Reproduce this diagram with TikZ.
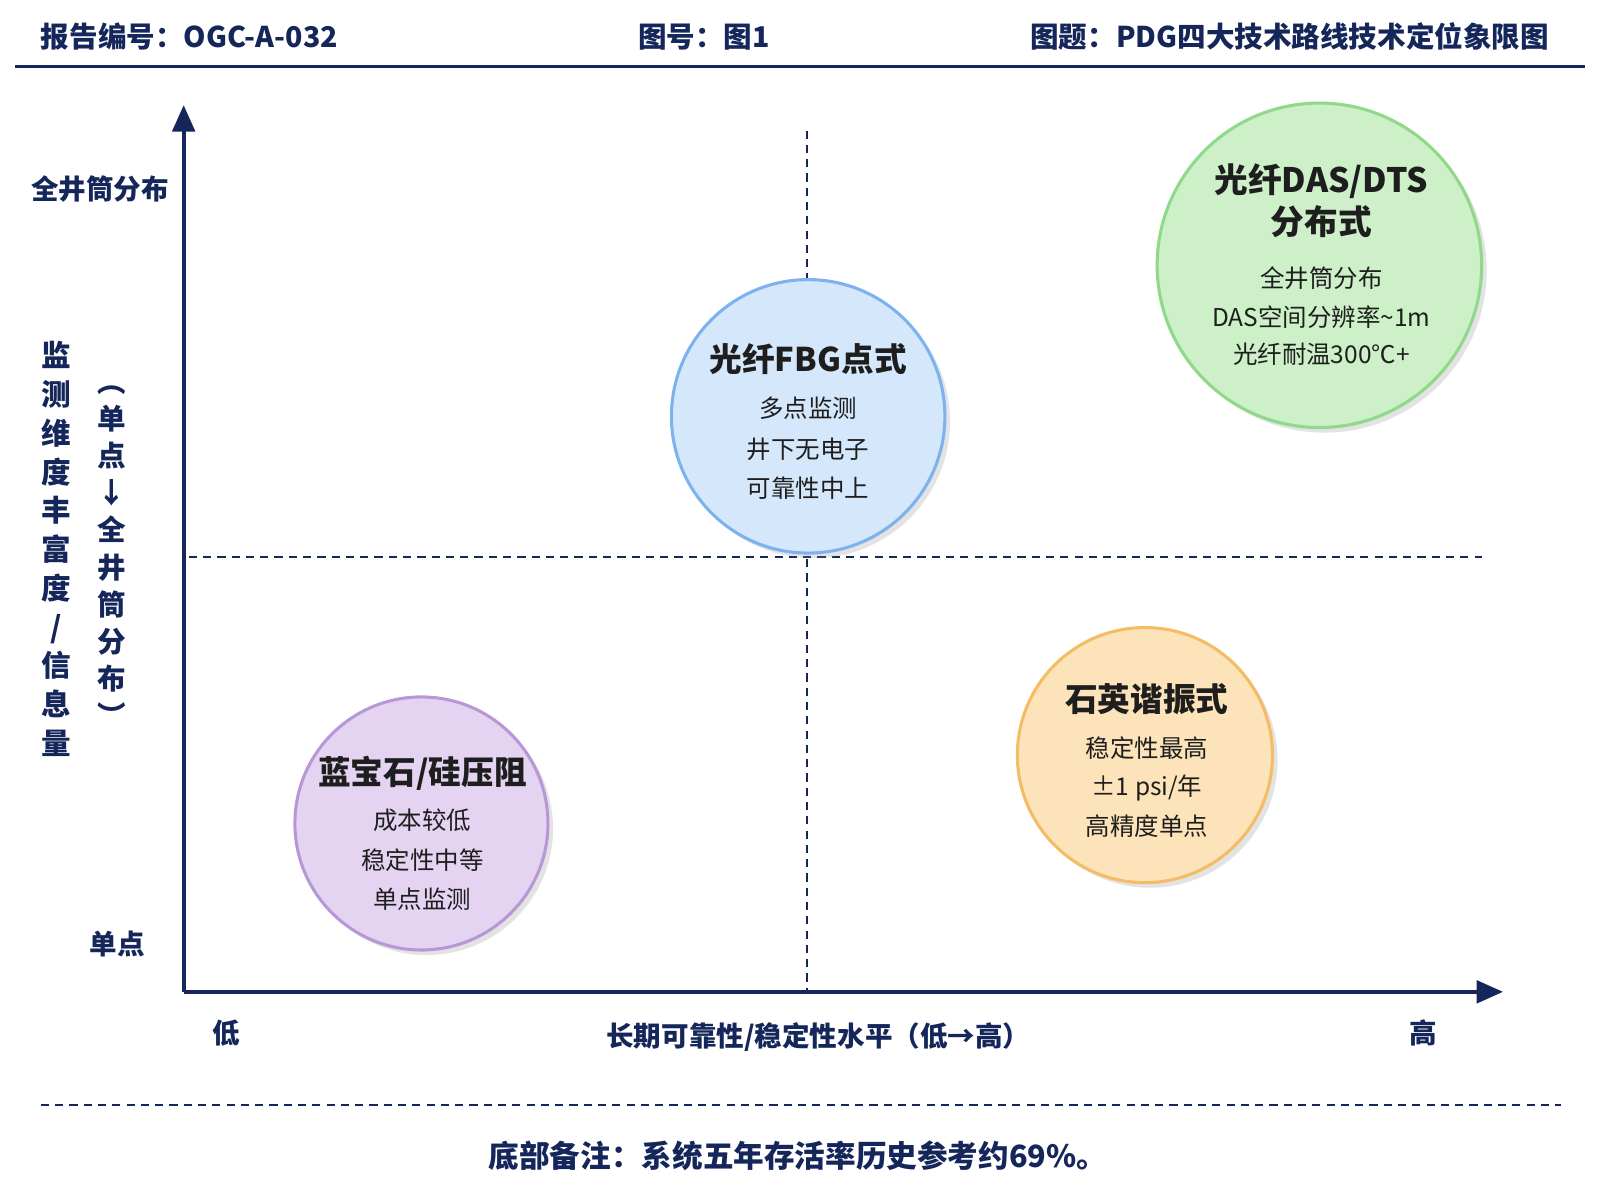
\documentclass[tikz,border=0pt]{standalone}
\usepackage{fontspec}
\setmainfont{Noto Sans CJK SC}
\usetikzlibrary{arrows.meta,shadows}
\definecolor{navy}{HTML}{15275A}
\definecolor{txt}{HTML}{1E1E1E}
\definecolor{bF}{HTML}{D5E7FB}\definecolor{bD}{HTML}{7DB2EE}
\definecolor{gF}{HTML}{CDF0C8}\definecolor{gD}{HTML}{8ED98A}
\definecolor{oF}{HTML}{FDE3B9}\definecolor{oD}{HTML}{F5BC66}
\definecolor{pF}{HTML}{E4D4F1}\definecolor{pD}{HTML}{B897D6}
\tikzset{
  hdr/.style={font=\bfseries\fontsize{14}{16}\selectfont,text=navy},
  lab/.style={font=\bfseries\fontsize{13.5}{16}\selectfont,text=navy},
  ttl/.style={font=\bfseries\fontsize{16}{19}\selectfont,text=txt,align=center},
  body/.style={font=\fontsize{12}{14}\selectfont,text=txt},
  bubble/.style={circle,line width=1.5pt,inner sep=0pt,drop shadow={opacity=0.22,shadow xshift=2.5pt,shadow yshift=-2.5pt}},
  qdash/.style={navy,line width=0.8pt,dash pattern=on 4pt off 3pt},
  axis/.style={navy,line width=2pt,-{Triangle[length=13pt,width=11pt]}}
}
\begin{document}
\begin{tikzpicture}[x=0.5pt,y=-0.5pt]
\useasboundingbox (0,0) rectangle (1568,1176);
% header
\node[hdr,anchor=west] (h1) at (33,36) {报告编号：OGC-A-032};
\node[hdr] (h2) at (690,36) {图号：图1};
\node[hdr,anchor=east] (h3) at (1525,36) {图题：PDG四大技术路线技术定位象限图};
\coordinate (hl) at (15,65); \coordinate (hr) at (1553,65);
\draw[navy,line width=1.6pt] (hl) -- (hr);
% dashed quadrant lines
\coordinate (vt) at (791,128); \coordinate (vb) at (791,972);
\coordinate (hL) at (185,546); \coordinate (hR) at (1452,546);
\draw[qdash] (vt) -- (vb);
\draw[qdash] (hL) -- (hR);
% axes
\coordinate (o) at (180,972); \coordinate (yt) at (180,103); \coordinate (xr) at (1473,972);
\draw[axis] (o) -- (yt);
\draw[axis] (o) -- (xr);
% axis labels
\node[lab] (ytop) at (98,185) {全井筒分布};
\node[lab] (ybot) at (115,925) {单点};
\node[lab] (xlo) at (222,1012) {低};
\node[lab] (xhi) at (1395,1012) {高};
\node[lab] (xl) at (802,1016) {长期可靠性/稳定性水平（低→高）};
\node[lab,align=center,font=\bfseries\fontsize{14.5}{19}\selectfont] (yl1) at (55,538) {监\\测\\维\\度\\丰\\富\\度\\/\\信\\息\\量};
\node[lab,align=center,font=\bfseries\fontsize{14}{18.2}\selectfont] (yl2) at (110,545) {︵\\单\\点\\↓\\全\\井\\筒\\分\\布\\︶};
% bubbles
\node[bubble,fill=bF,draw=bD,minimum size=134pt] (fbg) at (792,408) {};
\node[bubble,fill=gF,draw=gD,minimum size=159pt] (das) at (1293,260) {};
\node[bubble,fill=oF,draw=oD,minimum size=125pt] (qz) at (1122,740) {};
\node[bubble,fill=pF,draw=pD,minimum size=124pt] (sp) at (413,807) {};
% FBG text
\node[ttl] (fbgt) at (792,352) {光纤FBG点式};
\node[body] (fbg1) at (792,400) {多点监测};
\node[body] (fbg2) at (792,440) {井下无电子};
\node[body] (fbg3) at (792,478) {可靠性中上};
% DAS text
\node[ttl,font=\bfseries\fontsize{16.5}{20.5}\selectfont] (dast) at (1295,197) {光纤DAS/DTS\\分布式};
\node[body] (das1) at (1295,273) {全井筒分布};
\node[body] (das2) at (1295,311) {DAS空间分辨率\textasciitilde 1m};
\node[body] (das3) at (1295,347) {光纤耐温300℃+};
% Quartz
\node[ttl] (qzt) at (1124,685) {石英谐振式};
\node[body] (qz1) at (1124,733) {稳定性最高};
\node[body] (qz2) at (1124,772) {±1 psi/年};
\node[body] (qz3) at (1124,810) {高精度单点};
% Sapphire
\node[ttl] (spt) at (414,758) {蓝宝石/硅压阻};
\node[body] (sp1) at (414,804) {成本较低};
\node[body] (sp2) at (414,843) {稳定性中等};
\node[body] (sp3) at (414,881) {单点监测};
% footer
\coordinate (fl) at (40,1083); \coordinate (fr) at (1530,1083);
\draw[qdash,line width=1pt] (fl) -- (fr);
\node[hdr,font=\bfseries\fontsize{15}{18}\selectfont] (ft) at (782,1133) {底部备注：系统五年存活率历史参考约69\%。};
\end{tikzpicture}
\end{document}
